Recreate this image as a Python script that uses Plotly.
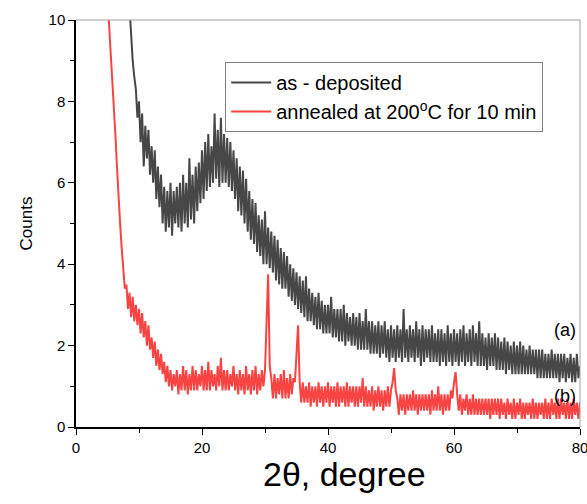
import numpy as np
import plotly.graph_objects as go

# sampling grid (degrees 2theta)
step = 0.25
gray_x_start = 8.0
red_x_start = 4.5

as_deposited = [
    11.6, 10.9, 10.1, 9.5, 9.0, 8.6, 8.3, 7.6,
    8.0, 7.0, 7.7, 6.4, 7.4, 6.6, 7.3, 6.2,
    6.9, 6.0, 6.8, 5.6, 6.4, 5.4, 6.2, 5.0,
    5.9, 4.8, 5.8, 4.9, 6.0, 4.7, 5.8, 5.0,
    5.9, 4.9, 6.0, 4.8, 6.2, 5.0, 6.0, 4.9,
    6.6, 5.1, 6.2, 5.0, 6.4, 5.3, 6.5, 5.5,
    6.8, 5.6, 7.0, 5.8, 7.2, 5.9, 6.9, 6.0,
    7.7, 6.1, 7.3, 5.9, 7.6, 6.0, 7.2, 6.0,
    7.1, 5.9, 7.0, 5.8, 6.8, 5.6, 6.6, 5.3,
    6.4, 5.2, 6.3, 5.0, 6.1, 4.8, 5.8, 4.6,
    5.6, 4.5, 5.5, 4.3, 5.2, 4.2, 5.1, 4.0,
    5.3, 4.0, 4.9, 3.9, 4.8, 3.8, 4.7, 3.6,
    4.6, 3.5, 4.4, 3.4, 4.3, 3.4, 4.2, 3.2,
    4.0, 3.1, 3.9, 3.0, 3.8, 2.9, 3.7, 2.8,
    3.6, 2.7, 3.7, 2.6, 3.4, 2.6, 3.3, 2.5,
    3.2, 2.4, 3.3, 2.4, 3.1, 2.3, 3.0, 2.3,
    3.0, 2.3, 3.2, 2.2, 2.9, 2.2, 2.9, 2.1,
    2.9, 2.1, 3.0, 2.0, 2.8, 2.1, 2.7, 2.0,
    2.8, 2.0, 2.7, 1.9, 2.8, 1.9, 2.6, 1.9,
    2.9, 1.9, 2.6, 1.8, 2.6, 1.8, 2.5, 1.8,
    2.6, 1.7, 2.5, 1.8, 2.6, 1.7, 2.4, 1.6,
    2.5, 1.7, 2.4, 1.6, 2.5, 1.7, 2.4, 1.6,
    2.9, 1.7, 2.4, 1.6, 2.5, 1.7, 2.4, 1.6,
    2.6, 1.7, 2.4, 1.5, 2.5, 1.6, 2.4, 1.7,
    2.4, 1.6, 2.5, 1.6, 2.3, 1.6, 2.4, 1.5,
    2.4, 1.6, 2.3, 1.5, 2.5, 1.6, 2.3, 1.5,
    2.4, 1.6, 2.3, 1.5, 2.4, 1.6, 2.5, 1.5,
    2.3, 1.6, 2.4, 1.5, 2.5, 1.6, 2.3, 1.5,
    2.6, 1.5, 2.3, 1.5, 2.2, 1.4, 2.3, 1.5,
    2.2, 1.5, 2.3, 1.4, 2.2, 1.4, 2.1, 1.4,
    2.2, 1.3, 2.1, 1.4, 2.0, 1.3, 2.1, 1.3,
    2.0, 1.3, 2.1, 1.3, 2.0, 1.3, 1.9, 1.3,
    2.0, 1.3, 1.9, 1.3, 1.9, 1.2, 1.9, 1.2,
    1.9, 1.2, 1.8, 1.2, 1.8, 1.2, 1.9, 1.2,
    1.8, 1.2, 1.8, 1.1, 1.8, 1.2, 1.8, 1.1,
    1.7, 1.2, 1.8, 1.1, 1.7, 1.1, 1.8, 1.2,
    1.5,
]

annealed = [
    12.0, 11.2, 10.4, 9.9, 9.2, 8.6, 7.8, 7.2, 6.4, 5.6, 5.0, 4.4, 3.8, 3.4,
    3.5, 2.9, 3.3, 2.7, 3.2, 2.6, 3.0, 2.5,
    2.9, 2.3, 2.8, 2.2, 2.6, 2.0, 2.5, 1.9,
    2.2, 1.7, 2.1, 1.5, 1.9, 1.4, 1.8, 1.3,
    1.6, 1.1, 1.5, 1.0, 1.4, 0.9, 1.3, 1.0,
    1.4, 0.8, 1.3, 0.9, 1.5, 0.9, 1.4, 0.8,
    1.3, 0.9, 1.5, 0.9, 1.4, 0.9, 1.3, 1.0,
    1.5, 0.9, 1.4, 0.9, 1.6, 0.9, 1.4, 1.0,
    1.3, 0.9, 1.5, 1.0, 1.7, 0.9, 1.4, 0.9,
    1.4, 0.9, 1.3, 1.0, 1.5, 0.9, 1.3, 0.8,
    1.4, 0.9, 1.3, 0.8, 1.5, 0.9, 1.3, 0.8,
    1.4, 0.9, 1.5, 0.8, 1.3, 0.9, 1.4, 1.0,
    1.4, 2.6, 3.75, 1.5,
    1.2, 0.7, 1.3, 0.7, 1.2, 0.8, 1.3, 0.7,
    1.4, 0.7, 1.2, 0.7, 1.3, 0.8, 1.2, 1.1,
    1.8, 2.5, 1.1, 0.6, 1.1, 0.6, 1.0, 0.6,
    1.1, 0.5, 1.0, 0.6, 1.0, 0.5, 1.1, 0.6,
    1.0, 0.5, 1.0, 0.6, 1.1, 0.5, 1.0, 0.6,
    1.0, 0.5, 1.1, 0.5, 1.0, 0.6, 1.0, 0.5,
    1.1, 0.5, 1.0, 0.6, 1.0, 0.5, 1.0, 0.5,
    1.0, 0.6, 1.2, 0.5, 1.0, 0.5, 0.9, 0.5,
    1.0, 0.4, 0.9, 0.5, 1.0, 0.5, 0.9, 0.4,
    0.9, 0.5, 1.0, 0.5, 0.9, 1.1, 1.45, 0.9,
    0.7, 0.3, 0.8, 0.4, 0.8, 0.3, 0.8, 0.4,
    0.8, 0.4, 0.9, 0.4, 0.8, 0.3, 0.8, 0.4,
    0.8, 0.4, 0.8, 0.4, 0.8, 0.3, 0.9, 0.4,
    0.8, 0.4, 1.0, 0.4, 0.8, 0.3, 0.8, 0.4,
    0.8, 0.4, 0.9, 0.7, 1.1, 1.35, 0.8, 0.4,
    0.8, 0.3, 0.7, 0.4, 0.8, 0.3, 0.7, 0.3,
    0.8, 0.3, 0.7, 0.3, 0.7, 0.3, 0.7, 0.3,
    0.7, 0.3, 0.7, 0.2, 0.7, 0.3, 0.7, 0.3,
    0.7, 0.2, 0.7, 0.3, 0.6, 0.2, 0.7, 0.3,
    0.6, 0.2, 0.7, 0.2, 0.6, 0.3, 0.7, 0.2,
    0.6, 0.2, 0.6, 0.3, 0.6, 0.2, 0.7, 0.2,
    0.6, 0.2, 0.6, 0.3, 0.6, 0.2, 0.7, 0.2,
    0.6, 0.2, 0.7, 0.3, 0.6, 0.2, 0.7, 0.2,
    0.7, 0.3, 0.6, 0.2, 0.7, 0.2, 0.6, 0.2,
    0.7, 0.3, 0.6, 0.2, 0.6,
]

series_names = ["as - deposited", "annealed at 200<sup>o</sup>C for 10 min"]
curve_labels = ["(a)", "(b)"]
x_title = "2θ, degree"
y_title = "Counts"
x_ticks = [0, 20, 40, 60, 80]
y_ticks = [0, 2, 4, 6, 8, 10]

gray_x = gray_x_start + step * np.arange(len(as_deposited))
red_x = red_x_start + step * np.arange(len(annealed))

GRAY = "#474747"
RED = "#f84343"
FONT = "Liberation Sans, Arial, sans-serif"

fig = go.Figure()
fig.add_trace(go.Scatter(x=gray_x, y=as_deposited, mode="lines", name=series_names[0],
                         line=dict(color=GRAY, width=2.0)))
fig.add_trace(go.Scatter(x=red_x, y=annealed, mode="lines", name=series_names[1],
                         line=dict(color=RED, width=2.0)))

axis_common = dict(showline=True, linecolor="black", linewidth=1.5, ticks="outside",
                   ticklen=6, tickwidth=1.2, tickcolor="black", showgrid=False,
                   zeroline=False, ticklabeloverflow="allow", automargin=False,
                   tickfont=dict(family=FONT, size=15, color="black"))

fig.update_xaxes(range=[0, 80], tickvals=x_ticks,
                 minor=dict(ticks="outside", ticklen=4, tickcolor="black", dtick=10, tick0=0, showgrid=False),
                 **axis_common)
fig.update_yaxes(range=[0, 10], tickvals=y_ticks,
                 minor=dict(ticks="outside", ticklen=4, tickcolor="black", dtick=1, tick0=0, showgrid=False),
                 title=dict(text=y_title, font=dict(family=FONT, size=17, color="black"), standoff=12),
                 **axis_common)

# x-axis title (sits slightly right of centre in the original)
fig.add_annotation(xref="paper", yref="paper", x=0.532, y=-0.065, yanchor="top",
                   text=x_title, showarrow=False,
                   font=dict(family=FONT, size=34, color="black"))

# gray top/right frame
fig.add_shape(type="line", xref="paper", yref="paper", x0=0, x1=1, y0=1, y1=1,
              line=dict(color="#a0a0a0", width=1))
fig.add_shape(type="line", xref="paper", yref="paper", x0=1, x1=1, y0=0, y1=1,
              line=dict(color="#a0a0a0", width=1))

fig.add_annotation(x=77.6, y=2.38, text=curve_labels[0], showarrow=False,
                   font=dict(family=FONT, size=18, color="black"))
fig.add_annotation(x=77.6, y=0.76, text=curve_labels[1], showarrow=False,
                   font=dict(family=FONT, size=18, color="black"))

fig.update_layout(
    width=587, height=504,
    margin=dict(l=76, r=7, t=20, b=77),
    plot_bgcolor="white", paper_bgcolor="white",
    showlegend=True,
    legend=dict(x=0.296, y=0.897, xanchor="left", yanchor="top",
                bgcolor="white", bordercolor="#808080", borderwidth=1,
                font=dict(family=FONT, size=20, color="black"),
                tracegroupgap=0, itemwidth=40),
)

fig.write_html("out.html")
